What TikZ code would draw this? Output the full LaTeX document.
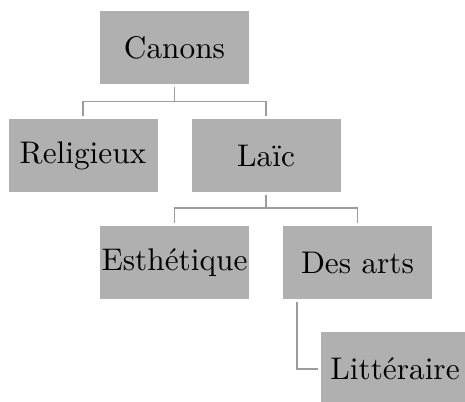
\documentclass[tikz,border=0pt]{standalone}
\usepackage{fontspec}
\usepackage{tikz}
\usetikzlibrary{calc}
\newfontfamily\boxfont{lmroman10-regular}[Extension=.otf]
\definecolor{boxgray}{HTML}{B0B0B0}
\definecolor{linkgray}{HTML}{9C9C9C}

\begin{document}
\begin{tikzpicture}[x=1pt,y=1pt,
    box/.style={fill=boxgray, minimum width=149pt, minimum height=73pt, inner sep=0pt, outer sep=3pt, font=\boxfont\fontsize{31.3}{37}\selectfont},
    link/.style={draw=linkgray, line width=1.8pt}]
    \clip (0,0) rectangle (465,401);
    \node (canons) [box] at (174.5,353) {Canons};
    \node (religieux) [box] at (83,245.5) {Religieux};
    \node (laic) [box] at (266,245.5) {Laïc};
    \node (esthetique) [box] at (174.5,138.5) {Esthétique};
    \node (desarts) [box] at (357.5,138.5) {Des arts};
    \node (litteraire) [box] at (395,32) {Littéraire};
    \foreach \n in {religieux,laic}
        \draw[link] (canons.south) -- ++(0,-14) -| (\n.north);
    \foreach \n in {esthetique,desarts}
        \draw[link] (laic.south) -- ++(0,-13) -| (\n.north);
    \draw[link] ($(desarts.south west)+(17,0)$) |- (litteraire.west);
\end{tikzpicture}
\end{document}
